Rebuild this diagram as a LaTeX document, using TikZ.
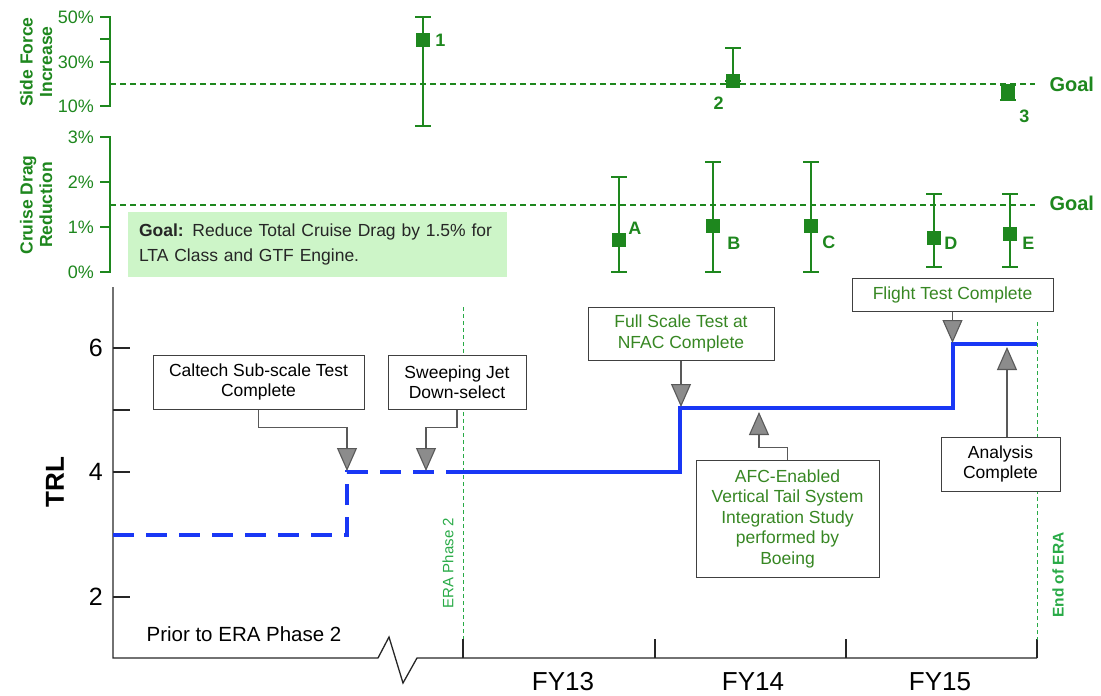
\documentclass[tikz,border=0pt]{standalone}
\usepackage{fontspec}
\setmainfont{Liberation Sans}
\usetikzlibrary{positioning,arrows.meta}

\definecolor{chartgreen}{RGB}{30,135,30}
\definecolor{eragreen}{RGB}{40,170,70}
\definecolor{boxgreen}{RGB}{55,135,35}
\definecolor{goalfill}{RGB}{205,245,200}
\definecolor{trlblue}{RGB}{25,55,245}

\begin{document}
\begin{tikzpicture}[
    x=1pt,y=-1pt,
    callout/.style={rectangle,draw=black!75,line width=1pt,fill=white,
        align=center,inner sep=2pt,font=\fontsize{17.5}{20.5}\selectfont},
    pointer/.style={draw=black!65,line width=1.1pt,
        -{Triangle[width=20pt,length=23pt,fill=black!45]}},
    datapt/.style={rectangle,fill=chartgreen,minimum size=14pt,inner sep=0pt},
    errbar/.style={draw=chartgreen,line width=1.8pt},
    goalline/.style={draw=chartgreen,line width=1.1pt,dash pattern=on 6pt off 4pt},
    goallabel/.style={anchor=west,text=chartgreen,font=\bfseries\fontsize{20}{22}\selectfont},
    ptlabel/.style={text=chartgreen,inner sep=1pt,font=\bfseries\fontsize{18}{20}\selectfont},
    pctlabel/.style={anchor=east,text=chartgreen,inner sep=1pt,font=\fontsize{18}{20}\selectfont},
    axtitle/.style={text=chartgreen,align=center,rotate=90,
        font=\bfseries\fontsize{17.5}{19.5}\selectfont},
    chartaxis/.style={draw=chartgreen,line width=1.3pt},
    trlaxis/.style={draw=black!85,line width=1.3pt},
    trlnum/.style={anchor=east,inner sep=1pt,font=\fontsize{25}{27}\selectfont},
    fylabel/.style={font=\fontsize{26}{28}\selectfont},
    eraline/.style={draw=eragreen,line width=0.8pt,dash pattern=on 4pt off 3pt},
    eralabel/.style={text=eragreen,rotate=90,font=\fontsize{15}{17}\selectfont},
    trl/.style={draw=trlblue,line width=4.5pt},
    goalbox/.style={rectangle,fill=goalfill,minimum width=379pt,minimum height=65pt,
        text width=357pt,align=left,text=black!85,font=\fontsize{17.5}{25}\selectfont}
]
\useasboundingbox (0,0) rectangle (1101,696);

% side force chart
\draw[chartaxis] (100,17) -- (110,17) -- (110,106) -- (100,106);
\foreach \y in {39,62}
    \draw[chartaxis] (100,\y) -- (110,\y);
\node[pctlabel] (sf50) at (95,17) {50\%};
\node[pctlabel] (sf30) at (95,62) {30\%};
\node[pctlabel] (sf10) at (95,106) {10\%};
\node[axtitle] (sftitle) at (36,62) {Side Force\\Increase};
\draw[goalline] (110,84) -- (1035,84);
\node[goallabel] (sfgoal) at (1046,84) {Goal};

\foreach \n/\x/\y/\t/\b in {p1/423/40/17/126,p2/733/81/48/81,p3/1008/92/85/100}{
    \draw[errbar] (\x,\t) -- (\x,\b) (\x-8,\t) -- (\x+8,\t) (\x-8,\b) -- (\x+8,\b);
    \node[datapt] (\n) at (\x,\y) {};
}
\node[ptlabel,right=4pt of p1] (l1) {1};
\node[ptlabel,below left=8pt and 1pt of p2] (l2) {2};
\node[ptlabel,below right=10pt and 3pt of p3] (l3) {3};

% cruise drag chart
\draw[chartaxis] (100,137) -- (110,137) -- (110,272) -- (100,272);
\foreach \y in {182,227}
    \draw[chartaxis] (100,\y) -- (110,\y);
\node[pctlabel] (cd3) at (95,137) {3\%};
\node[pctlabel] (cd2) at (95,182) {2\%};
\node[pctlabel] (cd1) at (95,227) {1\%};
\node[pctlabel] (cd0) at (95,272) {0\%};
\node[axtitle] (cdtitle) at (36,205) {Cruise Drag\\Reduction};
\draw[goalline] (110,205) -- (1035,205);
\node[goallabel] (cdgoal) at (1046,203) {Goal};
\node[goalbox] (goal) at (317.5,244.5)
    {\textbf{Goal:} Reduce Total Cruise Drag by 1.5\% for\\LTA Class and GTF Engine.};

\foreach \n/\x/\y/\t/\b in {pA/619/240/177/272,pB/713/226/162/272,pC/811/226/162/272,
        pD/934/238/194/267,pE/1010/234/194/267}{
    \draw[errbar] (\x,\t) -- (\x,\b) (\x-8,\t) -- (\x+8,\t) (\x-8,\b) -- (\x+8,\b);
    \node[datapt] (\n) at (\x,\y) {};
}
\node[ptlabel,right=1pt of pA,yshift=12pt] (lA) {A};
\node[ptlabel,right=6pt of pB,yshift=-17pt] (lB) {B};
\node[ptlabel,right=3pt of pC,yshift=-16pt] (lC) {C};
\node[ptlabel,right=2pt of pD,yshift=-5pt] (lD) {D};
\node[ptlabel,right=4pt of pE,yshift=-9pt] (lE) {E};

% TRL axes
\draw[trlaxis] (113,287) -- (113,658) -- (378,658) -- (389,637) -- (403,683)
    -- (417,658) -- (1037,658);
\foreach \y in {348,410,472,535,597}
    \draw[trlaxis] (113,\y) -- (130,\y);
\foreach \x in {463,655,846,1037}
    \draw[trlaxis] (\x,658) -- (\x,639);
\node[trlnum] (t6) at (104,348) {6};
\node[trlnum] (t4) at (104,472) {4};
\node[trlnum] (t2) at (104,597) {2};
\node[rotate=90,font=\bfseries\fontsize{26}{28}\selectfont] (trltitle) at (55,482) {TRL};
\node[fylabel] (fy13) at (563,682) {FY13};
\node[fylabel] (fy14) at (753,682) {FY14};
\node[fylabel] (fy15) at (940,682) {FY15};
\node[font=\fontsize{20.5}{22}\selectfont] (prior) at (244,634) {Prior to ERA Phase 2};

% phase markers
\draw[eraline] (463,307) -- (463,639);
\node[eralabel] (era2) at (448,563) {ERA Phase 2};
\draw[eraline] (1037,322) -- (1037,640);
\node[eralabel,font=\bfseries\fontsize{15.5}{17}\selectfont] (eraend) at (1058,575) {End of ERA};

% TRL path
\draw[trl,dash pattern=on 21pt off 12pt] (113,535) -- (347,535) -- (347,472) -- (463,472);
\draw[trl] (463,472) -- (680,472) -- (680,408) -- (953,408) -- (953,344) -- (1037,344);

% milestones
\node[callout] (cal) at (258.5,382) [minimum width=211pt,minimum height=54pt]
    {Caltech Sub-scale Test\\Complete};
\node[callout] (jet) at (457,382) [minimum width=138pt,minimum height=54pt]
    {Sweeping Jet\\Down-select};
\node[callout,text=boxgreen] (nfac) at (681,333.5) [minimum width=186pt,minimum height=53pt]
    {Full Scale Test at\\NFAC Complete};
\node[callout,text=boxgreen] (flight) at (952.5,294.5) [minimum width=201pt,minimum height=33pt]
    {Flight Test Complete};
\node[callout] (ana) at (1000.5,464) [minimum width=119pt,minimum height=54pt]
    {Analysis\\Complete};
\node[callout,text=boxgreen] (afc) at (787.5,518.5) [minimum width=183pt,minimum height=117pt]
    {AFC-Enabled\\Vertical Tail System\\Integration Study\\performed by\\Boeing};

\coordinate (tipCal) at (347,471);
\coordinate (tipJet) at (426,471);
\coordinate (tipNfac) at (681,407);
\coordinate (tipFlt) at (952.5,343);
\coordinate (tipAna) at (1007,347);
\coordinate (tipAfc) at (759,412);

\draw[pointer] (cal.south) -- ++(0,18) -| (tipCal);
\draw[pointer] (jet.south) -- ++(0,18) -| (tipJet);
\draw[pointer] (nfac.south) -- (tipNfac);
\draw[pointer] (flight.south) -- (tipFlt);
\draw[pointer] (ana.north -| tipAna) -- (tipAna);
\draw[pointer] (afc.north) -- ++(0,-12) -| (tipAfc);
\end{tikzpicture}
\end{document}
